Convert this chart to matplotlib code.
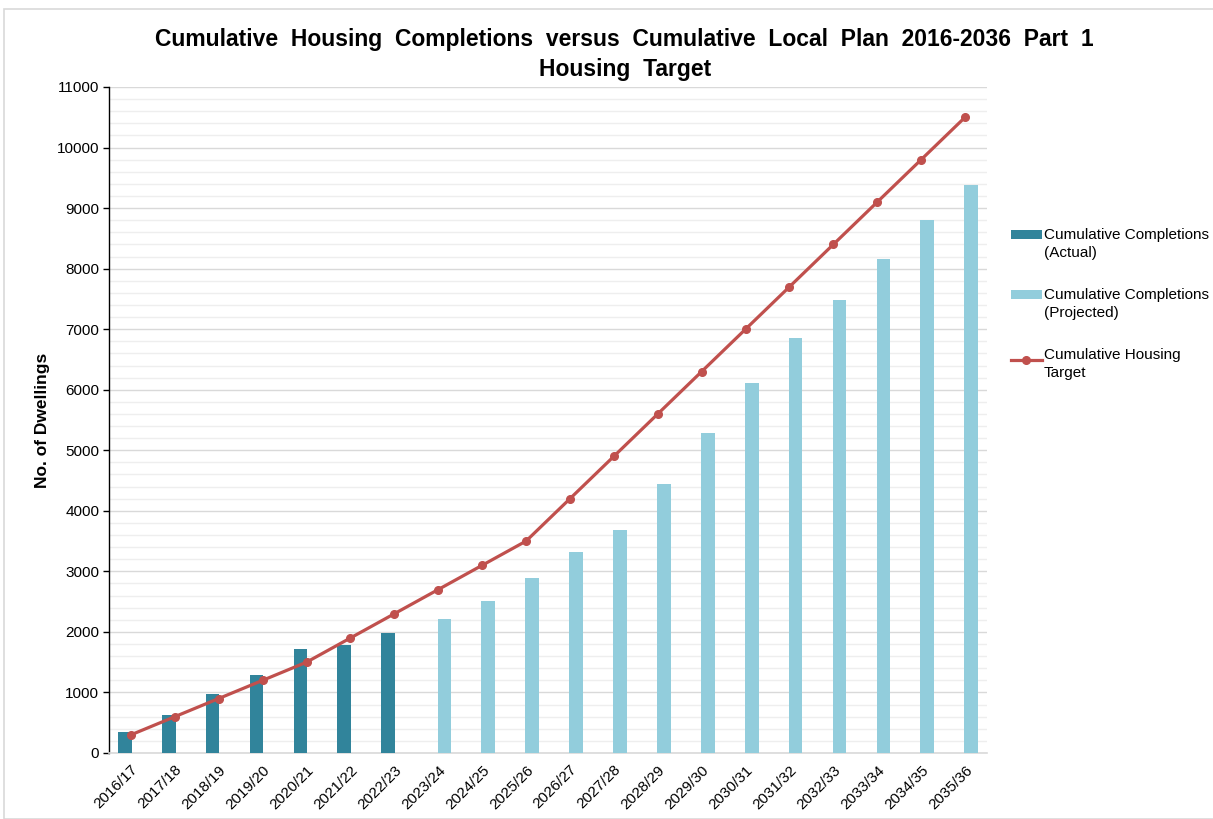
import matplotlib
matplotlib.use("Agg")
import matplotlib.pyplot as plt
from matplotlib.patches import Rectangle
from matplotlib.ticker import MultipleLocator
from matplotlib.legend_handler import HandlerPatch, HandlerLine2D
import numpy as np

plt.rcParams['font.family'] = ['Liberation Sans', 'DejaVu Sans']

years = ["2016/17", "2017/18", "2018/19", "2019/20", "2020/21", "2021/22", "2022/23",
         "2023/24", "2024/25", "2025/26", "2026/27", "2027/28", "2028/29", "2029/30",
         "2030/31", "2031/32", "2032/33", "2033/34", "2034/35", "2035/36"]
actual = [350, 620, 980, 1290, 1710, 1785, 1990]
projected = [2205, 2510, 2895, 3325, 3685, 4450, 5280, 6105, 6850, 7480, 8160, 8805, 9385]
target = [300, 600, 900, 1200, 1500, 1900, 2300, 2700, 3100, 3500, 4200, 4900,
          5600, 6300, 7000, 7700, 8400, 9100, 9800, 10500]

W, H = 1213, 819
fig = plt.figure(figsize=(W / 100, H / 100), dpi=100)
fig.patches.append(Rectangle((4 / W, 0), 1.2, 1 - 9 / H, transform=fig.transFigure,
                             fill=False, edgecolor='#d9d9d9', linewidth=1.2))

ax = fig.add_axes([109 / W, 1 - 753 / H, (987 - 109) / W, (753 - 87) / H])

x = np.arange(len(years))
n_act = len(actual)
bw = 0.31
off = 0.14
b1 = ax.bar(x[:n_act] - off, actual, width=bw, color='#31849B', zorder=3)
b2 = ax.bar(x[n_act:] + off, projected, width=bw, color='#92CDDC', zorder=3)
ln, = ax.plot(x, target, color='#C0504D', linewidth=2.3, marker='o', markersize=5.5, zorder=4)

ax.set_xlim(-0.5, len(years) - 0.5)
ax.set_ylim(0, 11000)
ax.yaxis.set_major_locator(MultipleLocator(1000))
ax.yaxis.set_minor_locator(MultipleLocator(200))
ax.grid(axis='y', which='major', color='#d9d9d9', linewidth=1.0, zorder=0)
ax.grid(axis='y', which='minor', color='#eeeeee', linewidth=1.0, zorder=0)
ax.set_axisbelow(True)

ax.set_xticks(x)
ax.set_xticklabels(years, rotation=45, ha='right', rotation_mode='anchor', fontsize=11)
ax.tick_params(axis='x', length=0, pad=7)
ax.tick_params(axis='y', which='major', length=4, width=1, direction='out', labelsize=11, pad=3)
ax.tick_params(axis='y', which='minor', length=0)

for s in ['top', 'right']:
    ax.spines[s].set_visible(False)
ax.spines['left'].set_color('black')
ax.spines['left'].set_linewidth(1.0)
ax.spines['bottom'].set_color('#d9d9d9')
ax.spines['bottom'].set_linewidth(1.2)

ax.set_ylabel('No. of Dwellings', fontsize=12.5, fontweight='bold', labelpad=5)

fig.text(0.515, 1 - 28 / H,
         'Cumulative  Housing  Completions  versus  Cumulative  Local  Plan  2016-2036  Part  1\nHousing  Target',
         ha='center', va='top', fontsize=16.5, fontweight='bold', linespacing=1.4)

DY = 7.0


class UpPatch(HandlerPatch):
    def create_artists(self, legend, orig_handle, xdescent, ydescent, width, height, fontsize, trans):
        return super().create_artists(legend, orig_handle, xdescent, ydescent - DY, width, height, fontsize, trans)


class UpLine(HandlerLine2D):
    def create_artists(self, legend, orig_handle, xdescent, ydescent, width, height, fontsize, trans):
        return super().create_artists(legend, orig_handle, xdescent, ydescent - DY, width, height, fontsize, trans)


h1 = b1.patches[0]
h2 = b2.patches[0]
handles = [h1, h2, ln]
labels = ['Cumulative Completions\n(Actual)', 'Cumulative Completions\n(Projected)',
          'Cumulative Housing\nTarget']
leg = ax.legend(handles, labels, loc='upper left', bbox_to_anchor=(1011 / W, 1 - 228 / H),
                bbox_transform=fig.transFigure, frameon=False, fontsize=11,
                handlelength=2.0, handleheight=0.55, handletextpad=0.13, labelspacing=1.85,
                borderpad=0, borderaxespad=0,
                handler_map={h1: UpPatch(), h2: UpPatch(), ln: UpLine()})
for t in leg.get_texts():
    t.set_linespacing(1.35)

fig.savefig('out.png', dpi=100)
